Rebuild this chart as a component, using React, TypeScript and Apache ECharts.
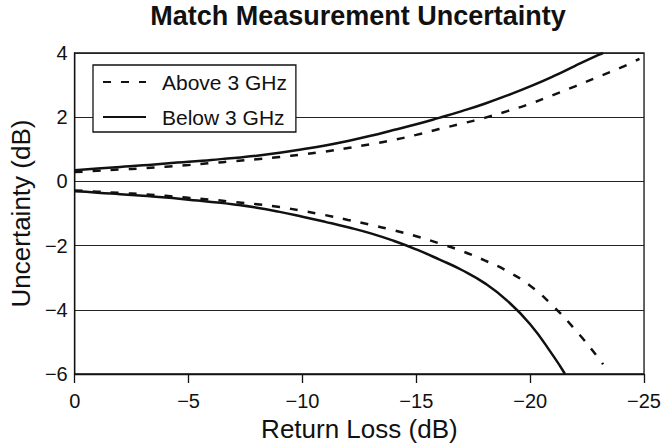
import React, { useEffect, useRef } from "react";
import * as echarts from "echarts";

const titleText = "Match Measurement Uncertainty";
const xAxisName = "Return Loss (dB)";
const yAxisName = "Uncertainty (dB)";
const seriesNames = ["Above 3 GHz", "Below 3 GHz"];

// Below 3 GHz (solid), upper branch
const xBelowUpper = [0, -1, -2, -3, -4, -5, -6, -7, -8, -9, -10, -11, -12, -13, -14, -15, -16, -17, -18, -19, -20, -21, -22, -23, -23.2];
const yBelowUpper = [0.35, 0.4, 0.45, 0.5, 0.56, 0.61, 0.67, 0.73, 0.8, 0.89, 1.0, 1.12, 1.26, 1.42, 1.6, 1.78, 1.98, 2.19, 2.42, 2.68, 2.96, 3.27, 3.61, 3.94, 4.0];
// Below 3 GHz (solid), lower branch
const xBelowLower = [0, -1, -2, -3, -4, -5, -6, -7, -8, -9, -10, -11, -12, -13, -14, -15, -16, -17, -18, -19, -20, -21, -21.53];
const yBelowLower = [-0.31, -0.35, -0.4, -0.45, -0.5, -0.57, -0.64, -0.72, -0.82, -0.95, -1.1, -1.26, -1.43, -1.62, -1.85, -2.12, -2.43, -2.76, -3.17, -3.72, -4.45, -5.42, -6.0];
// Above 3 GHz (dashed), upper branch
const xAboveUpper = [0, -1, -2, -3, -4, -5, -6, -7, -8, -9, -10, -11, -12, -13, -14, -15, -16, -17, -18, -19, -20, -21, -22, -23, -24, -24.8];
const yAboveUpper = [0.29, 0.33, 0.37, 0.41, 0.46, 0.51, 0.57, 0.63, 0.69, 0.76, 0.84, 0.93, 1.04, 1.16, 1.29, 1.45, 1.63, 1.8, 1.98, 2.19, 2.42, 2.69, 2.97, 3.26, 3.55, 3.82];
// Above 3 GHz (dashed), lower branch
const xAboveLower = [0, -1, -2, -3, -4, -5, -6, -7, -8, -9, -10, -11, -12, -13, -14, -15, -16, -17, -18, -19, -20, -21, -22, -23, -23.2];
const yAboveLower = [-0.28, -0.32, -0.36, -0.4, -0.45, -0.51, -0.57, -0.64, -0.71, -0.8, -0.92, -1.05, -1.2, -1.35, -1.52, -1.71, -1.93, -2.17, -2.46, -2.8, -3.25, -3.88, -4.64, -5.5, -5.7];

const pairs = (xs: number[], ys: number[]) => xs.map((x, i) => [x, ys[i]]);
const fmt = (v: number) => (v < 0 ? "\u2212" + Math.abs(v) : String(v));

const FONT = "'Liberation Sans', Arial, Helvetica, sans-serif";
const INK = "#111";

export default function App() {
  const ref = useRef<HTMLDivElement>(null);
  useEffect(() => {
    document.body.style.margin = "0";
    const chart = echarts.init(ref.current!, undefined, { renderer: "svg" });
    const dashed = { color: INK, width: 2.5, type: [8, 10] as any };
    const solid = { color: INK, width: 2.5, type: "solid" as any };
    const mk = (name: string, xs: number[], ys: number[], ls: any) => ({
      name,
      type: "line",
      data: pairs(xs, ys),
      symbol: "none",
      smooth: 0.5,
      lineStyle: ls,
      itemStyle: { color: INK },
      z: 3,
    });
    chart.setOption({
      animation: false,
      backgroundColor: "#fff",
      textStyle: { fontFamily: FONT, color: INK },
      graphic: [
        {
          type: "text",
          x: 358,
          y: 16,
          style: {
            text: titleText,
            align: "center",
            verticalAlign: "middle",
            fontFamily: FONT,
            fontWeight: "bold",
            fontSize: 27,
            fill: INK,
          },
        },
      ],
      grid: {
        left: 70,
        right: 18,
        top: 53,
        bottom: 72,
        show: true,
        borderColor: INK,
        borderWidth: 1.3,
      },
      legend: {
        data: seriesNames,
        orient: "vertical",
        left: 93,
        top: 65,
        padding: [5, 9, 3, 9],
        itemWidth: 43,
        itemHeight: 14,
        itemGap: 11,
        backgroundColor: "#fff",
        borderColor: INK,
        borderWidth: 1.3,
        borderRadius: 0,
        selectedMode: false,
        itemStyle: { color: "rgba(0,0,0,0)", borderColor: "rgba(0,0,0,0)", borderWidth: 0, opacity: 0 },
        textStyle: {
          fontFamily: FONT,
          fontSize: 21,
          color: INK,
          lineHeight: 24,
          padding: [0, 0, 0, 11],
        },
      },
      xAxis: {
        type: "value",
        min: -25,
        max: 0,
        interval: 5,
        inverse: true,
        name: xAxisName,
        nameLocation: "middle",
        nameGap: 42,
        nameTextStyle: { fontFamily: FONT, fontSize: 26, color: INK },
        axisLine: { show: true, onZero: false, lineStyle: { color: INK, width: 1.3 } },
        axisTick: { show: true, length: 9, lineStyle: { color: INK, width: 1.3 } },
        axisLabel: { formatter: fmt, fontFamily: FONT, fontSize: 20, color: INK, margin: 17 },
        splitLine: { show: false },
      },
      yAxis: {
        type: "value",
        min: -6,
        max: 4,
        interval: 2,
        name: yAxisName,
        nameLocation: "middle",
        nameGap: 34,
        nameTextStyle: { fontFamily: FONT, fontSize: 26, color: INK },
        axisLine: { show: true, onZero: false, lineStyle: { color: INK, width: 1.3 } },
        axisTick: { show: false },
        axisLabel: { formatter: fmt, fontFamily: FONT, fontSize: 20, color: INK, margin: 7 },
        splitLine: { show: true, lineStyle: { color: "#222", width: 1.2 } },
      },
      series: [
        mk(seriesNames[0], xAboveUpper, yAboveUpper, dashed),
        mk(seriesNames[1], xBelowUpper, yBelowUpper, solid),
        mk(seriesNames[0], xAboveLower, yAboveLower, dashed),
        mk(seriesNames[1], xBelowLower, yBelowLower, solid),
      ],
    });
    return () => chart.dispose();
  }, []);
  return <div ref={ref} style={{ width: 664, height: 447 }} />;
}
